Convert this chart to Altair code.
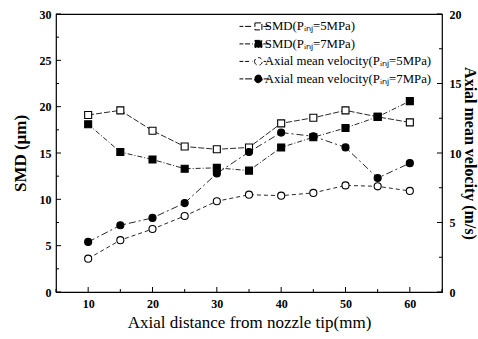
import altair as alt
import pandas as pd

# ---------------- data ----------------
x_mm = [10, 15, 20, 25, 30, 35, 40, 45, 50, 55, 60]
smd_5mpa = [19.1, 19.6, 17.4, 15.7, 15.4, 15.6, 18.2, 18.8, 19.6, 18.9, 18.3]
smd_7mpa = [18.1, 15.1, 14.3, 13.3, 13.4, 13.1, 15.6, 16.7, 17.7, 18.9, 20.6]
vel_5mpa = [2.4, 3.73, 4.53, 5.47, 6.53, 7.0, 6.93, 7.13, 7.67, 7.6, 7.27]
vel_7mpa = [3.6, 4.8, 5.33, 6.4, 8.53, 10.07, 11.47, 11.2, 10.4, 8.2, 9.27]

series = [
    "SMD(P\u1d62\u2099\u2c7c=5MPa)",
    "SMD(P\u1d62\u2099\u2c7c=7MPa)",
    "Axial mean velocity(P\u1d62\u2099\u2c7c=5MPa)",
    "Axial mean velocity(P\u1d62\u2099\u2c7c=7MPa)",
]

x_ticks_major = [10, 20, 30, 40, 50, 60]
x_ticks_minor = [5, 15, 25, 35, 45, 55, 65]
smd_ticks_major = [0, 5, 10, 15, 20, 25, 30]
smd_ticks_minor = [2.5, 7.5, 12.5, 17.5, 22.5, 27.5]
vel_ticks_major = [0, 5, 10, 15, 20]
vel_ticks_minor = [2.5, 7.5, 12.5, 17.5]

# ---------------- styling ----------------
FONT = "Liberation Serif"
W, H = 386, 278

smd_df = pd.DataFrame({
    "x": x_mm * 2,
    "v": smd_5mpa + smd_7mpa,
    "series": [series[0]] * len(x_mm) + [series[1]] * len(x_mm),
})
vel_df = pd.DataFrame({
    "x": x_mm * 2,
    "v": vel_5mpa + vel_7mpa,
    "series": [series[2]] * len(x_mm) + [series[3]] * len(x_mm),
})

xs = alt.Scale(domain=[5, 65], nice=False, zero=False)
smd_s = alt.Scale(domain=[0, 30], nice=False)
vel_s = alt.Scale(domain=[0, 20], nice=False)
dash_scale = alt.Scale(domain=series, range=[[6, 2], [5, 2, 1, 2], [4, 3], [7, 3, 2, 3]])
fill_scale = alt.Scale(domain=series, range=["white", "black", "white", "black"])
stroke_scale = alt.Scale(domain=series, range=["black", "black", "black", "black"])

sq = "M-1,-1H1V1H-1Z"
ci = "M-1.1,0A1.1,1.1 0 1,0 1.1,0A1.1,1.1 0 1,0 -1.1,0Z"
legend_paths = [
    "M-5.4,0H-4.3M-3.8,0H-1.6M1.4,0H2.9" + sq,
    "M-5.4,0H-4.3M-3.8,0H-1.6M1.4,0H2.9" + sq,
    "M-5.4,0H-4.3M-3.8,0H-1.7M1.5,0H2.2M2.6,0H3.1" + ci,
    "M-5.4,0H-4.3M-3.8,0H-1.7M1.5,0H3.1" + ci,
]

x_axis = alt.Axis(values=x_ticks_major, ticks=False, domain=False, grid=False,
                  labelFont=FONT, labelFontSize=12, labelFontWeight="bold", labelColor="black",
                  labelPadding=6, title="Axial distance from nozzle tip(mm)",
                  titleFont=FONT, titleFontSize=17, titleFontWeight="normal", titleColor="black",
                  titlePadding=5)
left_axis = alt.Axis(values=smd_ticks_major, ticks=False, domain=False, grid=False, orient="left",
                     labelFont=FONT, labelFontSize=12, labelFontWeight="bold", labelColor="black",
                     labelPadding=5, title="SMD (\u03bcm)", titleFont=FONT, titleFontSize=17,
                     titleFontWeight="bold", titleColor="black", titlePadding=10)
right_axis = alt.Axis(values=vel_ticks_major, ticks=False, domain=False, grid=False, orient="right",
                      labelFont=FONT, labelFontSize=12, labelFontWeight="bold", labelColor="black",
                      labelPadding=7, title="Axial mean velocity (m/s)", titleFont=FONT,
                      titleFontSize=16, titleFontWeight="bold", titleColor="black", titlePadding=0)

leg = alt.Legend(orient="none", legendX=196, legendY=6, title=None, padding=0,
                 labelFont=FONT, labelFontSize=12.8, labelColor="black", labelOffset=0,
                 rowPadding=3.5, symbolSize=49, symbolStrokeColor="black",
                 symbolStrokeWidth=1, symbolOpacity=1, labelLimit=300)

smd_lines = alt.Chart(smd_df).mark_line(color="#111", strokeWidth=0.9).encode(
    x=alt.X("x:Q", scale=xs, axis=x_axis),
    y=alt.Y("v:Q", scale=smd_s, axis=left_axis),
    strokeDash=alt.StrokeDash("series:N", scale=dash_scale, legend=None),
)
smd_points = alt.Chart(smd_df).mark_point(shape="square", size=49, stroke="black",
                                          strokeWidth=1.1, opacity=1, fillOpacity=1).encode(
    x=alt.X("x:Q", scale=xs, axis=None),
    y=alt.Y("v:Q", scale=smd_s, axis=None),
    fill=alt.Fill("series:N", scale=fill_scale, legend=None),
)
vel_lines = alt.Chart(vel_df).mark_line(color="#111", strokeWidth=0.9).encode(
    x=alt.X("x:Q", scale=xs, axis=None),
    y=alt.Y("v:Q", scale=vel_s, axis=right_axis),
    strokeDash=alt.StrokeDash("series:N", scale=dash_scale, legend=None),
)
vel_points = alt.Chart(vel_df).mark_point(shape="circle", size=50, stroke="black",
                                          strokeWidth=1.1, opacity=1, fillOpacity=1).encode(
    x=alt.X("x:Q", scale=xs, axis=None),
    y=alt.Y("v:Q", scale=vel_s, axis=None),
    fill=alt.Fill("series:N", scale=fill_scale, legend=None),
)
# legend-only layer: invisible marks, visible legend
legend_layer = alt.Chart(smd_df).mark_point(size=49, strokeWidth=1, opacity=0).encode(
    x=alt.X("x:Q", scale=xs, axis=None),
    y=alt.Y("v:Q", scale=smd_s, axis=None),
    shape=alt.Shape("series:N", scale=alt.Scale(domain=series, range=legend_paths), legend=leg),
    fill=alt.Fill("series:N", scale=fill_scale, legend=leg),
    stroke=alt.Stroke("series:N", scale=stroke_scale, legend=leg),
)


def hticks(vals, scale, x1, x2):
    return alt.Chart(pd.DataFrame({"v": vals})).mark_rule(color="black", strokeWidth=1).encode(
        y=alt.Y("v:Q", scale=scale, axis=None), x=alt.value(x1), x2=alt.value(x2))


def vticks(vals, length):
    return alt.Chart(pd.DataFrame({"v": vals})).mark_rule(color="black", strokeWidth=1).encode(
        x=alt.X("v:Q", scale=xs, axis=None), y=alt.value(H), y2=alt.value(H - length))


chart = alt.layer(
    legend_layer,
    smd_lines, vel_lines, smd_points, vel_points,
    hticks(smd_ticks_major, smd_s, 0, 5),
    hticks(smd_ticks_minor, smd_s, 0, 3),
    hticks(vel_ticks_major, vel_s, W - 5, W),
    hticks(vel_ticks_minor, vel_s, W - 3, W),
    vticks(x_ticks_major, 5),
    vticks(x_ticks_minor, 3),
).resolve_scale(y="independent").resolve_axis(x="independent").properties(
    width=W, height=H,
    autosize=alt.AutoSizeParams(type="none"),
    padding={"left": 56, "top": 14, "right": 36, "bottom": 47},
    background="white",
).configure_view(stroke="black", strokeWidth=1.2)

chart.save("out.html", embed_options={"renderer": "svg", "actions": False})
